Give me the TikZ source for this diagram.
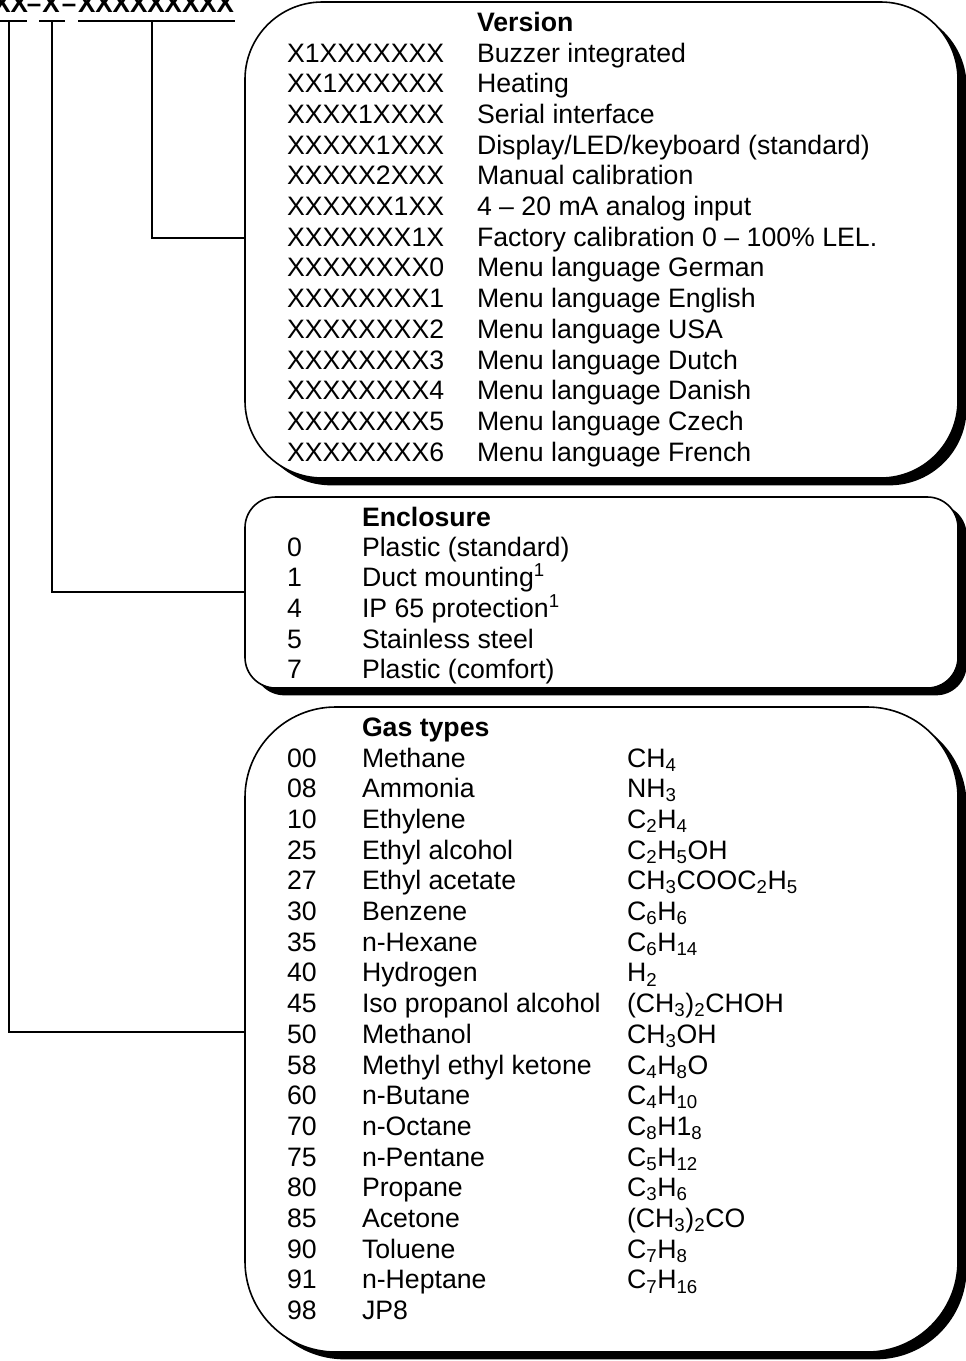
\documentclass[tikz,border=0pt]{standalone}
\usepackage{fontspec}
\setmainfont{Liberation Sans}
\usetikzlibrary{shadows}
\newcommand\sbs[1]{\textsubscript{#1}}
\tikzset{
  txt/.style={anchor=base west, inner sep=0pt, outer sep=0pt, font=\fontsize{20}{24}\selectfont},
  hdr/.style={txt, font=\fontsize{20}{24}\selectfont\bfseries},
  lbl/.style={anchor=base, inner sep=0pt, outer sep=0pt, font=\fontsize{19.5}{23}\selectfont\bfseries},
  box/.style={draw=black, line width=1.2pt, fill=white, inner sep=0pt, outer sep=0pt,
    general shadow={fill=black, shadow xshift=6.5pt, shadow yshift=-5.5pt}},
  conn/.style={line width=1.5pt},
}
\newcommand\vrow[4]{\node[txt] (#1c) at (287,#2) {#3}; \node[txt] (#1d) at (477,#2) {#4};}
\newcommand\erow[4]{\node[txt] (#1c) at (287,#2) {#3}; \node[txt] (#1d) at (362,#2) {#4};}
\newcommand\grow[5]{\node[txt] (#1c) at (287,#2) {#3}; \node[txt] (#1d) at (362,#2) {#4}; \node[txt] (#1f) at (627,#2) {#5};}
\begin{document}
\begin{tikzpicture}[x=0.75pt,y=-0.75pt]
\useasboundingbox (0,0) rectangle (966,1361);

% boxes
\node[box, minimum width=534.75pt, minimum height=357pt, rounded corners=58pt] (vbox) at (601.5,240) {};
\node[box, minimum width=534.75pt, minimum height=143.25pt, rounded corners=23pt] (ebox) at (601.5,592.5) {};
\node[box, minimum width=534.75pt, minimum height=483.75pt, rounded corners=68pt] (gbox) at (601.5,1029.5) {};

% top label
\node[lbl, anchor=base east] (lxa) at (28,12) {XX};
\node[lbl] (lda) at (34,12) {–};
\node[lbl] (lxb) at (51,12) {X};
\node[lbl] (ldb) at (69,12) {–};
\node[lbl, anchor=base west] (lxc) at (78,12) {XXXXXXXXX};

\coordinate (ua1) at (0,21);  \coordinate (ua2) at (27,21);
\coordinate (ub1) at (39,21); \coordinate (ub2) at (65,21);
\coordinate (uc1) at (78,21); \coordinate (uc2) at (235,21);
\draw[conn] (ua1) -- (ua2);
\draw[conn] (ub1) -- (ub2);
\draw[conn] (uc1) -- (uc2);

\coordinate (u1) at (9,21);
\coordinate (u2) at (52,21);
\coordinate (u3) at (152,21);
\coordinate (e1) at (245,238);
\coordinate (e2) at (245,592);
\coordinate (e3) at (245,1032);
\draw[conn] (u3) |- (e1);
\draw[conn] (u2) |- (e2);
\draw[conn] (u1) |- (e3);

% Version box
\node[hdr] (vh) at (477,31) {Version};
\vrow{v0}{62}{X1XXXXXXX}{Buzzer integrated}
\vrow{v1}{92.7}{XX1XXXXXX}{Heating}
\vrow{v2}{123.4}{XXXX1XXXX}{Serial interface}
\vrow{v3}{154.1}{XXXXX1XXX}{Display/LED/keyboard (standard)}
\vrow{v4}{184.8}{XXXXX2XXX}{Manual calibration}
\vrow{v5}{215.5}{XXXXXX1XX}{4 – 20 mA analog input}
\vrow{v6}{246.2}{XXXXXXX1X}{Factory calibration 0 – 100\% LEL.}
\vrow{v7}{276.9}{XXXXXXXX0}{Menu language German}
\vrow{v8}{307.6}{XXXXXXXX1}{Menu language English}
\vrow{v9}{338.3}{XXXXXXXX2}{Menu language USA}
\vrow{v10}{369}{XXXXXXXX3}{Menu language Dutch}
\vrow{v11}{399.7}{XXXXXXXX4}{Menu language Danish}
\vrow{v12}{430.4}{XXXXXXXX5}{Menu language Czech}
\vrow{v13}{461.1}{XXXXXXXX6}{Menu language French}

% Enclosure box
\node[hdr] (eh) at (362,526) {Enclosure};
\erow{e0}{556}{0}{Plastic (standard)}
\erow{e1r}{586.7}{1}{Duct mounting\textsuperscript{1}}
\erow{e4}{617.4}{4}{IP 65 protection\textsuperscript{1}}
\erow{e5}{648.1}{5}{Stainless steel}
\erow{e7}{678.8}{7}{Plastic (comfort)}

% Gas types box
\node[hdr] (gh) at (362,736) {Gas types};
\grow{g00}{767}{00}{Methane}{CH\sbs{4}}
\grow{g08}{797.7}{08}{Ammonia}{NH\sbs{3}}
\grow{g10}{828.4}{10}{Ethylene}{C\sbs{2}H\sbs{4}}
\grow{g25}{859.1}{25}{Ethyl alcohol}{C\sbs{2}H\sbs{5}OH}
\grow{g27}{889.8}{27}{Ethyl acetate}{CH\sbs{3}COOC\sbs{2}H\sbs{5}}
\grow{g30}{920.5}{30}{Benzene}{C\sbs{6}H\sbs{6}}
\grow{g35}{951.2}{35}{n-Hexane}{C\sbs{6}H\sbs{14}}
\grow{g40}{981.9}{40}{Hydrogen}{H\sbs{2}}
\grow{g45}{1012.6}{45}{Iso propanol alcohol}{(CH\sbs{3})\sbs{2}CHOH}
\grow{g50}{1043.3}{50}{Methanol}{CH\sbs{3}OH}
\grow{g58}{1074}{58}{Methyl ethyl ketone}{C\sbs{4}H\sbs{8}O}
\grow{g60}{1104.7}{60}{n-Butane}{C\sbs{4}H\sbs{10}}
\grow{g70}{1135.4}{70}{n-Octane}{C\sbs{8}H1\sbs{8}}
\grow{g75}{1166.1}{75}{n-Pentane}{C\sbs{5}H\sbs{12}}
\grow{g80}{1196.8}{80}{Propane}{C\sbs{3}H\sbs{6}}
\grow{g85}{1227.5}{85}{Acetone}{(CH\sbs{3})\sbs{2}CO}
\grow{g90}{1258.2}{90}{Toluene}{C\sbs{7}H\sbs{8}}
\grow{g91}{1288.9}{91}{n-Heptane}{C\sbs{7}H\sbs{16}}
\erow{g98}{1319.6}{98}{JP8}
\end{tikzpicture}
\end{document}
